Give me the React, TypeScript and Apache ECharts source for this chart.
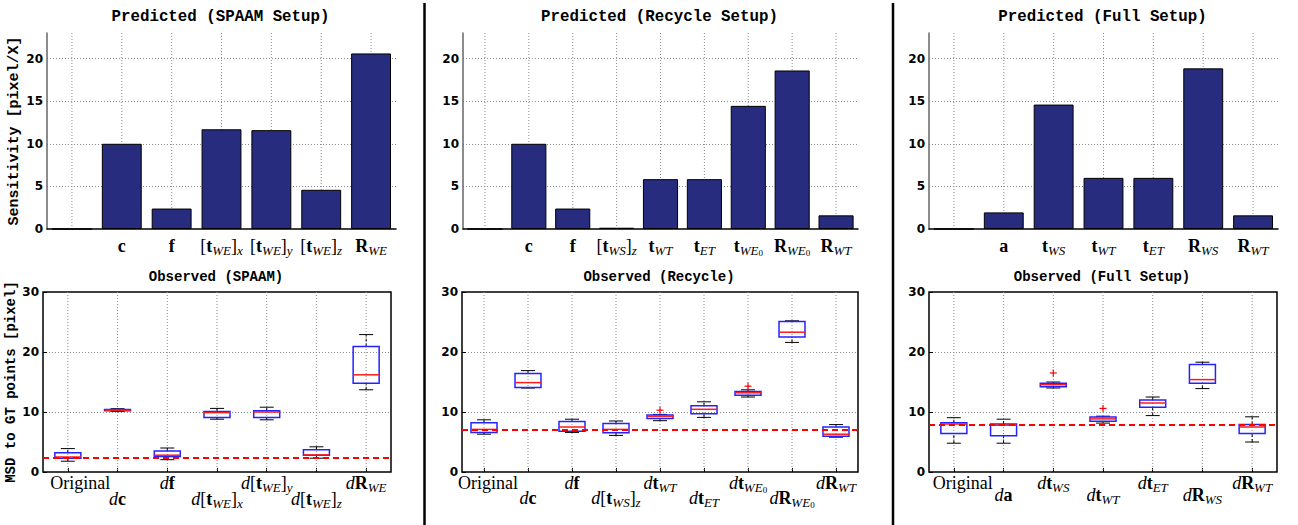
import React, { useEffect, useRef } from 'react';
import * as echarts from 'echarts';

// ---------- data ----------
const spaamCats = ['', 'c', 'f', '[tWE]x', '[tWE]y', '[tWE]z', 'RWE'];
const spaamPred = [0, 10.0, 2.4, 11.7, 11.6, 4.6, 20.6];

const recycleCats = ['', 'c', 'f', '[tWS]z', 'tWT', 'tET', 'tWE0', 'RWE0', 'RWT'];
const recyclePred = [0, 10.0, 2.4, 0.15, 5.85, 5.85, 14.45, 18.6, 1.6];

const fullCats = ['', 'a', 'tWS', 'tWT', 'tET', 'RWS', 'RWT'];
const fullPred = [0, 1.95, 14.6, 6.0, 6.0, 18.85, 1.6];

const spaamObsCats = ['Original', 'dc', 'df', 'd[tWE]x', 'd[tWE]y', 'd[tWE]z', 'dRWE'];
// [lower whisker, q1, median, q3, upper whisker]
const spaamBoxes = [
  [1.8, 2.3, 2.5, 3.2, 3.9],
  [10.1, 10.2, 10.3, 10.4, 10.55],
  [2.05, 2.6, 2.8, 3.5, 4.0],
  [8.8, 9.1, 9.9, 10.1, 10.6],
  [8.7, 9.1, 10.0, 10.2, 10.8],
  [2.3, 2.8, 2.85, 3.7, 4.2],
  [13.7, 14.8, 16.2, 20.9, 22.9],
];
const spaamOutliers: number[][] = [];
const spaamBaseline = 2.45;

const recycleObsCats = ['Original', 'dc', 'df', 'd[tWS]z', 'dtWT', 'dtET', 'dtWE0', 'dRWE0', 'dRWT'];
const recycleBoxes = [
  [6.3, 6.6, 7.1, 8.2, 8.7],
  [14.0, 14.1, 14.9, 16.4, 16.9],
  [6.6, 6.8, 7.5, 8.4, 8.8],
  [6.1, 6.55, 7.1, 8.1, 8.5],
  [8.55, 8.9, 9.3, 9.5, 9.6],
  [9.1, 9.7, 10.45, 11.05, 11.7],
  [12.5, 12.8, 13.2, 13.4, 13.7],
  [21.6, 22.5, 23.3, 25.1, 25.2],
  [5.8, 5.95, 6.3, 7.5, 7.9],
];
const recycleOutliers = [[4, 10.3], [6, 14.3]];
const recycleBaseline = 7.1;

const fullObsCats = ['Original', 'da', 'dtWS', 'dtWT', 'dtET', 'dRWS', 'dRWT'];
const fullBoxes = [
  [4.8, 6.4, 8.0, 8.2, 9.05],
  [4.8, 6.05, 7.8, 8.0, 8.8],
  [14.0, 14.2, 14.55, 14.8, 15.0],
  [8.15, 8.45, 8.85, 9.15, 9.3],
  [9.4, 10.8, 11.5, 12.0, 12.5],
  [13.9, 14.8, 15.4, 17.9, 18.3],
  [5.0, 6.4, 7.5, 7.9, 9.2],
];
const fullOutliers = [[2, 16.5], [3, 10.6]];
const fullBaseline = 7.95;

// ---------- styling ----------
const SERIF = '"Liberation Serif", "Times New Roman", serif';
const MONO = '"Liberation Mono", "Courier New", monospace';
const SANS = '"DejaVu Sans", sans-serif';
const BAR_COLOR = '#272c7e';
const GRID_LINE = { stroke: '#8a8a8a', lineWidth: 1, lineDash: [1, 2] };

const MARKUP: Record<string, string> = {
  '': '',
  Original: '{o|Original}',
  a: '{b|a}',
  c: '{b|c}',
  f: '{b|f}',
  '[tWE]x': '{r|[}{b|t}{s|WE}{r|]}{s|x}',
  '[tWE]y': '{r|[}{b|t}{s|WE}{r|]}{s|y}',
  '[tWE]z': '{r|[}{b|t}{s|WE}{r|]}{s|z}',
  '[tWS]z': '{r|[}{b|t}{s|WS}{r|]}{s|z}',
  RWE: '{b|R}{s|WE}',
  RWE0: '{b|R}{s|WE}{ss|0}',
  RWT: '{b|R}{s|WT}',
  RWS: '{b|R}{s|WS}',
  tWT: '{b|t}{s|WT}',
  tET: '{b|t}{s|ET}',
  tWE0: '{b|t}{s|WE}{ss|0}',
  tWS: '{b|t}{s|WS}',
};
const toMarkup = (k: string): string =>
  MARKUP[k] !== undefined ? MARKUP[k] : '{i|d}' + MARKUP[k.slice(1)];

const rich = (origPad: number) => ({
  b: { fontFamily: SERIF, fontWeight: 'bold', fontSize: 18, lineHeight: 22, color: '#000' },
  r: { fontFamily: SERIF, fontSize: 18, lineHeight: 22, color: '#000' },
  i: { fontFamily: SERIF, fontStyle: 'italic', fontSize: 18, lineHeight: 22, color: '#000' },
  o: { fontFamily: SERIF, fontSize: 18, lineHeight: 22, color: '#000', padding: [0, 0, 0, origPad] },
  s: { fontFamily: SERIF, fontStyle: 'italic', fontSize: 13, lineHeight: 14, verticalAlign: 'bottom', color: '#000' },
  ss: { fontFamily: SERIF, fontSize: 9, lineHeight: 9, verticalAlign: 'bottom', color: '#000' },
});

const TOP_PANELS = [
  { cats: spaamCats, values: spaamPred, title: 'Predicted (SPAAM Setup)', yName: 'Sensitivity [pixel/X]' },
  { cats: recycleCats, values: recyclePred, title: 'Predicted (Recycle Setup)', yName: '' },
  { cats: fullCats, values: fullPred, title: 'Predicted (Full Setup)', yName: '' },
];
const BOTTOM_PANELS = [
  { cats: spaamObsCats, boxes: spaamBoxes, outliers: spaamOutliers, baseline: spaamBaseline, title: 'Observed (SPAAM)', yName: 'MSD to GT points [pixel]', origPad: 25, row2: 16 },
  { cats: recycleObsCats, boxes: recycleBoxes, outliers: recycleOutliers, baseline: recycleBaseline, title: 'Observed (Recycle)', yName: '', origPad: 8, row2: 15 },
  { cats: fullObsCats, boxes: fullBoxes, outliers: fullOutliers, baseline: fullBaseline, title: 'Observed (Full Setup)', yName: '', origPad: 18, row2: 12 },
];

const TOP_GRIDS = [
  { left: 47, top: 33, width: 349, height: 196 },
  { left: 463, top: 33, width: 395, height: 196 },
  { left: 929, top: 33, width: 349, height: 196 },
];
const BOTTOM_GRIDS = [
  { left: 43, top: 292, width: 348, height: 180 },
  { left: 462, top: 292, width: 396, height: 180 },
  { left: 929, top: 292, width: 348, height: 180 },
];

const tickLabelStyle = { fontFamily: SANS, fontWeight: 'bold', fontSize: 12, color: '#000', margin: 4 };
const axisNameStyle = { fontFamily: MONO, fontWeight: 'bold', fontSize: 15, color: '#000' };

const vGridSeries = (xi: number, yi: number, n: number) => ({
  type: 'custom',
  xAxisIndex: xi,
  yAxisIndex: yi,
  silent: true,
  z: 1,
  data: Array.from({ length: n }, (_, i) => [i, 0]),
  encode: { x: 0, y: 1 },
  renderItem: (params: any, api: any) => {
    const x = api.coord([api.value(0), 0])[0];
    const cs = params.coordSys;
    return {
      type: 'line',
      shape: { x1: x, y1: cs.y, x2: x, y2: cs.y + cs.height },
      style: { ...GRID_LINE, fill: null },
    };
  },
});

function buildOption() {
  const grid: any[] = [];
  const xAxis: any[] = [];
  const yAxis: any[] = [];
  const series: any[] = [];
  const graphic: any[] = [];

  TOP_PANELS.forEach((p, k) => {
    const g = TOP_GRIDS[k];
    grid.push({ ...g, containLabel: false });
    const xi = xAxis.length;
    xAxis.push({
      gridIndex: grid.length - 1,
      type: 'category',
      data: p.cats,
      axisLine: { show: true, lineStyle: { color: '#000', width: 1.5 } },
      axisTick: { show: false },
      splitLine: { show: false },
      axisLabel: { interval: 0, margin: 6, formatter: (v: string) => toMarkup(v), rich: rich(0) },
    });
    const yi = yAxis.length;
    yAxis.push({
      gridIndex: grid.length - 1,
      type: 'value',
      min: 0,
      max: 23,
      interval: 5,
      axisLine: { show: true, lineStyle: { color: '#666', width: 1.5 } },
      axisTick: { show: false },
      axisLabel: { ...tickLabelStyle, formatter: (v: number) => (v % 5 === 0 ? String(v) : '') },
      splitLine: { show: true, showMinLine: false, showMaxLine: false, lineStyle: { color: '#8a8a8a', type: [1, 2], width: 1 } },
      name: p.yName,
      nameLocation: 'middle',
      nameGap: 24,
      nameRotate: 90,
      nameTextStyle: axisNameStyle,
    });
    series.push(vGridSeries(xi, yi, p.cats.length));
    series.push({
      type: 'bar',
      xAxisIndex: xi,
      yAxisIndex: yi,
      data: p.values,
      barWidth: '80%',
      z: 2,
      itemStyle: { color: BAR_COLOR, borderColor: '#000', borderWidth: 1 },
    });
    graphic.push({
      type: 'text',
      x: g.left + g.width / 2 - 1,
      y: 17,
      style: { text: p.title, fontFamily: MONO, fontWeight: 'bold', fontSize: 15.8, fill: '#000', align: 'center', verticalAlign: 'middle' },
    });
  });

  BOTTOM_PANELS.forEach((p, k) => {
    const g = BOTTOM_GRIDS[k];
    grid.push({ ...g, show: true, borderColor: '#000', borderWidth: 1.5, backgroundColor: 'transparent' });
    const gi = grid.length - 1;
    const xi = xAxis.length;
    xAxis.push({
      gridIndex: gi,
      type: 'category',
      position: 'bottom',
      data: p.cats,
      axisLine: { show: false },
      axisTick: { show: true, inside: true, alignWithLabel: true, length: 4, lineStyle: { color: '#000' } },
      splitLine: { show: false },
      axisLabel: {
        interval: 0,
        margin: 0,
        formatter: (v: string, i: number) => (i % 2 === 0 ? toMarkup(v) : ''),
        rich: rich(p.origPad),
      },
    });
    xAxis.push({
      gridIndex: gi,
      type: 'category',
      position: 'bottom',
      offset: p.row2,
      data: p.cats,
      axisLine: { show: false },
      axisTick: { show: false },
      splitLine: { show: false },
      axisLabel: {
        interval: 0,
        margin: 0,
        formatter: (v: string, i: number) => (i % 2 === 1 ? toMarkup(v) : ''),
        rich: rich(p.origPad),
      },
    });
    const yi = yAxis.length;
    yAxis.push({
      gridIndex: gi,
      type: 'value',
      min: 0,
      max: 30,
      interval: 10,
      axisLine: { show: false },
      axisTick: { show: true, inside: true, length: 4, lineStyle: { color: '#000' } },
      axisLabel: tickLabelStyle,
      splitLine: { show: true, showMinLine: false, showMaxLine: false, lineStyle: { color: '#8a8a8a', type: [1, 2], width: 1 } },
      name: p.yName,
      nameLocation: 'middle',
      nameGap: 23,
      nameRotate: 90,
      nameTextStyle: { ...axisNameStyle, fontSize: 14 },
    });
    series.push(vGridSeries(xi, yi, p.cats.length));
    series.push({
      type: 'custom',
      xAxisIndex: xi,
      yAxisIndex: yi,
      z: 3,
      data: p.boxes.map((b, i) => [i, ...b]),
      encode: { x: 0, y: [1, 2, 3, 4, 5] },
      renderItem: (params: any, api: any) => {
        const x = api.value(0);
        const lo = api.coord([x, api.value(1)]);
        const q1 = api.coord([x, api.value(2)]);
        const med = api.coord([x, api.value(3)]);
        const q3 = api.coord([x, api.value(4)]);
        const hi = api.coord([x, api.value(5)]);
        const cx = lo[0];
        const bw = 26;
        const cw = 7;
        const black = { stroke: '#000', lineWidth: 1, fill: null };
        return {
          type: 'group',
          children: [
            { type: 'line', shape: { x1: cx, y1: lo[1], x2: cx, y2: q1[1] }, style: { ...black, lineDash: [3, 2] } },
            { type: 'line', shape: { x1: cx, y1: q3[1], x2: cx, y2: hi[1] }, style: { ...black, lineDash: [3, 2] } },
            { type: 'line', shape: { x1: cx - cw, y1: lo[1], x2: cx + cw, y2: lo[1] }, style: black },
            { type: 'line', shape: { x1: cx - cw, y1: hi[1], x2: cx + cw, y2: hi[1] }, style: black },
            {
              type: 'rect',
              shape: { x: cx - bw / 2, y: q3[1], width: bw, height: q1[1] - q3[1] },
              style: { fill: null, stroke: '#2323ff', lineWidth: 1.5 },
            },
            { type: 'line', shape: { x1: cx - bw / 2, y1: med[1], x2: cx + bw / 2, y2: med[1] }, style: { stroke: '#ff1a1a', lineWidth: 1.5, fill: null } },
          ],
        };
      },
      markLine: {
        silent: true,
        symbol: 'none',
        label: { show: false },
        lineStyle: { color: '#ff0000', type: [6, 4], width: 2 },
        data: [{ yAxis: p.baseline }],
      },
    });
    series.push({
      type: 'custom',
      xAxisIndex: xi,
      yAxisIndex: yi,
      z: 4,
      data: p.outliers,
      encode: { x: 0, y: 1 },
      renderItem: (params: any, api: any) => {
        const c = api.coord([api.value(0), api.value(1)]);
        const s = 3.5;
        const st = { stroke: '#ff0000', lineWidth: 1.2, fill: null };
        return {
          type: 'group',
          children: [
            { type: 'line', shape: { x1: c[0] - s, y1: c[1], x2: c[0] + s, y2: c[1] }, style: st },
            { type: 'line', shape: { x1: c[0], y1: c[1] - s, x2: c[0], y2: c[1] + s }, style: st },
          ],
        };
      },
    });
    graphic.push({
      type: 'text',
      x: g.left + g.width / 2 - 1,
      y: 277,
      style: { text: p.title, fontFamily: MONO, fontWeight: 'bold', fontSize: 14, fill: '#000', align: 'center', verticalAlign: 'middle' },
    });
  });

  [424.5, 893].forEach((x) => {
    graphic.push({
      type: 'line',
      shape: { x1: x, y1: 3, x2: x, y2: 525 },
      style: { stroke: '#000', lineWidth: 2.5 },
    });
  });

  return {
    animation: false,
    backgroundColor: '#fff',
    grid,
    xAxis,
    yAxis,
    series,
    graphic,
  };
}

export default function App() {
  const ref = useRef<HTMLDivElement>(null);
  useEffect(() => {
    document.body.style.margin = '0';
    const chart = echarts.init(ref.current as HTMLDivElement, null, { renderer: 'svg' });
    chart.setOption(buildOption() as any);
    return () => chart.dispose();
  }, []);
  return <div ref={ref} style={{ position: 'absolute', left: 0, top: 0, width: 1298, height: 525 }} />;
}
